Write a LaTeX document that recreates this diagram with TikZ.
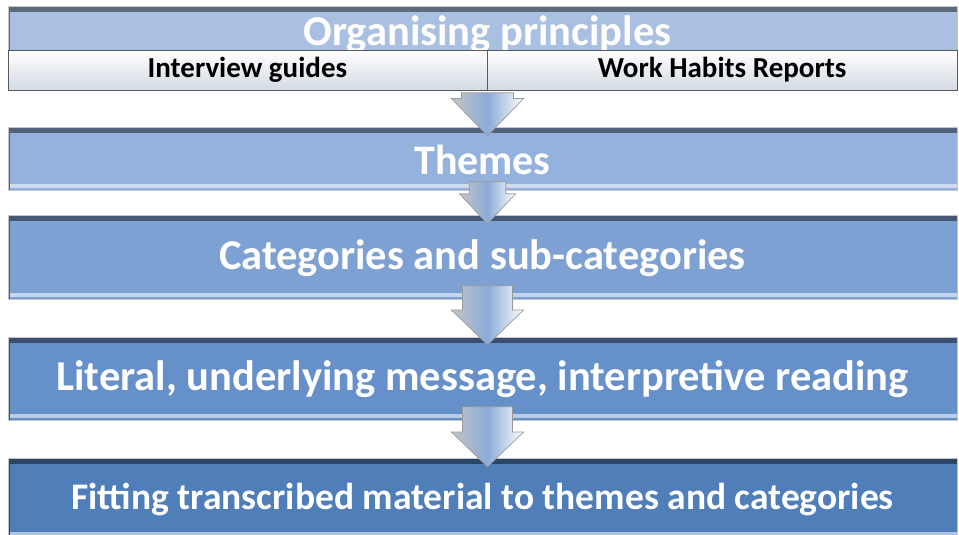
\documentclass[tikz,border=0pt]{standalone}
\usepackage{fontspec}
\setmainfont{Carlito}
\usetikzlibrary{positioning,shapes.arrows}
\definecolor{azulA}{HTML}{A9C0E2}
\definecolor{azulB}{HTML}{94B2DD}
\definecolor{azulC}{HTML}{7EA1D3}
\definecolor{azulD}{HTML}{6690CA}
\definecolor{azulE}{HTML}{4F7EB9}
\definecolor{gris}{HTML}{DDE4EE}
\tikzset{
    barra/.style={rectangle,draw=gray!45,line width=1pt,inner sep=0pt,
        minimum width=949pt,text=white,fill=#1,
        path picture={
            \draw[#1!55!black,line width=5pt]
                ([yshift=-2.5pt]path picture bounding box.north west) --
                ([yshift=-2.5pt]path picture bounding box.north east);
            \draw[#1!45!white,line width=4pt]
                ([yshift=5pt]path picture bounding box.south west) --
                ([yshift=5pt]path picture bounding box.south east);
            \draw[#1!55!black,line width=3pt]
                (path picture bounding box.north west) --
                (path picture bounding box.south west);}},
    subbarra/.style={rectangle,draw=gray!70!black,line width=0.8pt,inner sep=0pt,
        minimum height=40pt,top color=white,bottom color=gris!90!gray,
        font=\bfseries\fontsize{29}{30}\selectfont},
    flechota/.style={single arrow,shape border rotate=270,draw=gray!80,line width=0.7pt,
        inner ysep=0pt,left color=gray!45,right color=white,middle color=azulC!90!white},
    letra/.style={font=\bfseries\fontsize{#1}{#1}\selectfont},
}
\begin{document}
\begin{tikzpicture}[x=1pt,y=1pt]
    \useasboundingbox (0,0) rectangle (959,535);
    \node [barra=azulA,minimum height=83pt] (b1) at (482.5,486.5) {};
    \node [letra=42.5,text=white] (tit) at ([xshift=5pt,yshift=-28pt]b1.north) {Organising principles};
    \node [subbarra,minimum width=479pt,anchor=south west] (guias) at (b1.south west) {Interview guides};
    \node [subbarra,minimum width=470pt,anchor=south east] (habitos) at (b1.south east) {Work Habits Reports};
    \node [barra=azulB,minimum height=63pt,letra=42,below=37pt of b1] (temas) {Themes};
    \node [barra=azulC,minimum height=84pt,letra=42.5,below=24pt of temas] (cats) {Categories and sub-categories};
    \node [barra=azulD,minimum height=83pt,letra=42.5,below=37pt of cats] (lectura) {Literal, underlying message, interpretive reading};
    \node [barra=azulE,minimum height=80pt,letra=37.5,below=37pt of lectura] (ajuste) {Fitting transcribed material to themes and categories};

    \node [flechota,minimum height=43pt,minimum width=72pt,inner xsep=18pt,
        single arrow tip angle=88,anchor=tail] (f1) at ([xshift=5pt,yshift=-2pt]b1.south) {};
    \node [flechota,minimum height=42pt,minimum width=56pt,inner xsep=13pt,
        single arrow tip angle=86,anchor=tail] (f2) at ([xshift=5pt,yshift=10pt]temas.south) {};
    \node [flechota,minimum height=59pt,minimum width=72pt,inner xsep=16pt,
        single arrow tip angle=92,anchor=tail] (f3) at ([xshift=5pt,yshift=15pt]cats.south) {};
    \node [flechota,minimum height=60pt,minimum width=72pt,inner xsep=16pt,
        single arrow tip angle=92,anchor=tail] (f4) at ([xshift=5pt,yshift=15pt]lectura.south) {};
\end{tikzpicture}
\end{document}
